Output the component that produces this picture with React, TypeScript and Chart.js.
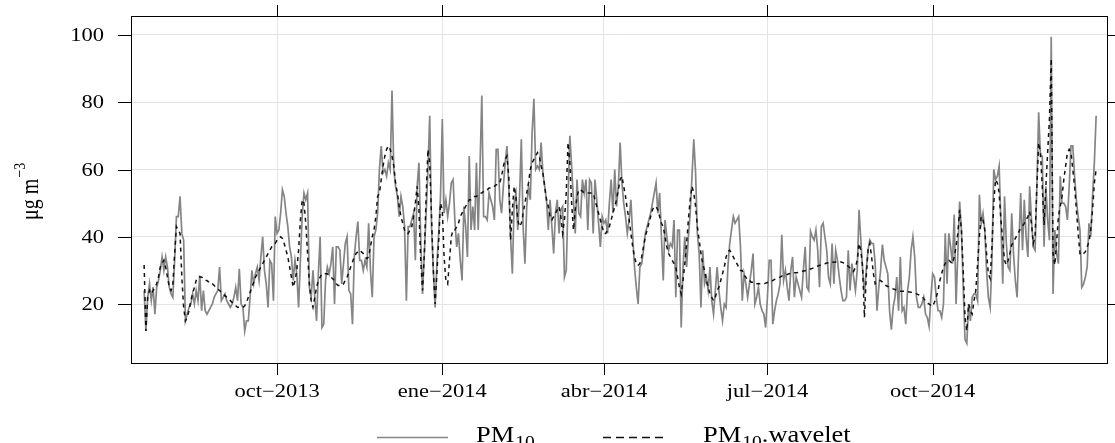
import React, { useEffect, useRef } from "react";
import { Chart, registerables } from "chart.js";

Chart.register(...registerables);

// Daily series; day numbers count from 2013-07-01 (day 0)
const START_DAY = 18;

const pm10: number[] = [
  24, 12, 22, 26, 21, 25, 17, 25, 27, 30,
  34, 30, 34, 31, 25, 23, 22, 33, 46, 46,
  52, 41, 39, 15, 17, 19, 20, 23, 20, 24,
  21, 28.5, 18, 24, 18, 17, 18, 19, 20, 22,
  23, 24, 31, 21, 22, 23, 21, 20, 19, 20,
  22, 25, 21, 30.5, 20, 19, 12, 15, 15, 22,
  30, 26, 29, 31, 27, 34, 40, 30, 26, 19,
  33, 32, 21, 46, 41, 42, 47, 54, 52, 47,
  43, 37, 34, 27, 33, 29, 19, 33, 46, 53,
  51, 53, 25, 22, 30, 22, 15, 29, 40, 13,
  14, 27, 31, 29, 32, 37, 20, 37, 37, 36,
  26, 32, 38, 40, 24, 23, 14, 34, 40, 44.5,
  33, 33, 30, 33, 31, 44, 30, 22, 40, 42,
  47, 60, 67, 59, 60, 58, 62, 60, 83.5, 60,
  55, 52, 46, 52, 49, 43, 21, 43, 43, 45,
  47, 33, 55, 62, 39, 23, 35, 47, 60, 76,
  43, 30, 19, 32, 41, 52, 75, 47, 51, 46,
  50, 56, 57, 45, 37, 41, 33, 27, 49, 43,
  34, 64, 42, 49, 42, 62, 42, 61, 82, 46,
  46, 45, 53, 51, 49, 45, 66, 66, 51, 47,
  55, 62, 67, 55, 40, 29, 50, 53, 42, 52,
  69, 43, 32, 49, 55, 51, 71, 81, 60, 61,
  60, 68, 59, 55, 51, 42, 51, 43, 35, 47,
  51, 41, 48, 49, 28, 30, 51, 70, 61, 51,
  41, 57, 47, 46, 57, 53, 57, 42, 57, 56,
  41, 57, 51, 44, 37, 46, 44, 45, 41, 50,
  57, 47, 60, 49, 55, 68, 56, 50, 46, 41,
  45, 51, 40, 31, 25, 20, 31, 32, 36, 41,
  43, 45, 47, 50, 53, 56, 47, 53, 40, 27,
  45, 40, 36, 38, 37, 45, 22, 42, 42, 13,
  31, 40, 31, 40, 47, 58, 69, 59, 41, 35,
  19, 36, 26, 28, 24, 31, 21, 17, 24, 31,
  24, 19, 15, 20, 19, 31, 38, 42, 46, 44,
  45, 46, 37, 21, 29, 26, 22, 26, 30, 35,
  20, 22, 25, 20, 18, 17, 13, 22, 33, 33,
  14, 18, 21, 23, 26, 40.6, 27, 30, 25, 21,
  30, 34, 22, 28, 26, 24, 22, 30, 37, 25,
  24, 41.6, 40, 39, 42, 36, 25, 43, 44, 40,
  36, 28, 26, 38, 26, 36, 33, 28, 24, 21,
  21, 22, 36, 24, 32, 28, 24, 30, 48, 39,
  30, 23, 30, 36, 39, 38, 38, 32, 18, 25,
  30, 37.7, 33, 31, 29, 18, 12.4, 19, 22, 28,
  18, 34, 18, 19, 14, 24, 28, 36, 40, 34,
  22, 19, 19, 20, 22, 17, 16, 13.4, 22, 29,
  28, 22, 18, 18, 16, 20, 41, 26, 41, 37,
  32, 46.6, 20, 35, 50.5, 42, 25, 9.4, 8.3, 20,
  15, 22, 23, 23, 21, 52.5, 44, 47, 42, 30,
  22, 19, 33, 60, 57, 58, 61, 44, 26, 52,
  38, 31, 30, 47, 35, 27, 22, 38, 53, 36,
  51, 40, 34, 55, 45, 37, 36, 55, 77, 64,
  64, 37, 55, 45, 39, 99.5, 23, 42, 35, 32,
  58, 50, 50, 49, 45, 55, 67, 67, 58, 51,
  46, 42, 25, 26, 28, 31, 44, 40, 52, 62,
  76,
];

const pm10Wavelet: number[] = [
  31.6, 12, 22, 24, 23, 24, 25, 26, 28, 31,
  32, 33, 31, 28, 25, 24, 26, 35, 43, 42,
  41, 28, 19, 15, 16, 18, 21, 23, 25, 27,
  28, 28, 28, 27.5, 27, 27, 26.5, 26, 26, 25.5,
  25, 24.5, 24, 23.5, 23, 22.5, 22, 21.5, 21, 20.5,
  20, 19.5, 19, 19, 19, 19, 19.5, 20.5, 22, 23.5,
  25, 26.5, 28, 29, 30, 31, 32, 33, 34, 35,
  36, 37, 37.5, 38, 39, 39.5, 40, 39.5, 38, 36,
  34, 31, 28, 25, 27, 30, 36, 45, 51, 50,
  44, 35, 26, 21, 19, 22, 25, 27, 28, 29,
  29, 29, 29, 28.5, 28, 27.5, 27, 26, 25.5, 25.5,
  25.5, 26, 27, 28, 29.5, 31, 32.5, 34, 35, 35.5,
  36, 35.5, 35, 34, 33.5, 34, 37, 40, 42, 46,
  52, 53, 57, 61, 64, 66, 67, 66, 64, 61,
  56, 53, 49, 46, 44, 42, 41, 41, 42, 43,
  46, 50, 55, 48, 33, 24, 35, 52, 66, 62,
  46, 30, 20, 29, 39, 50, 48, 34, 27, 26,
  33, 40, 42, 42, 43, 44, 46, 47, 48, 49,
  50, 51, 51, 51.5, 52, 52, 52.5, 53, 53, 53.5,
  54, 54, 54.5, 54.5, 55, 55, 55.5, 55.5, 56, 58,
  61, 63, 64, 58, 39, 48, 55, 52, 45, 43,
  44, 47, 50, 53, 56, 60, 62, 63, 64, 65,
  64, 61, 59, 55, 51, 49, 46, 45, 46, 47,
  48, 49, 46, 41, 45, 53, 68, 62, 50, 42,
  48, 52, 54, 54, 53.5, 53, 53, 53, 53, 53,
  53, 51, 49, 47, 45, 43, 41, 41, 42, 43,
  45, 47, 49, 51, 54, 57, 58, 55, 52, 48,
  45, 41, 37, 34, 32, 31.5, 32, 34, 37, 40,
  42, 44, 46, 48, 49, 49, 48, 46, 44, 43,
  40, 37, 35, 34, 33, 32, 31, 28, 25, 23,
  27, 32, 38, 45, 51, 55, 53, 49, 43, 39,
  35, 32, 30, 27, 25, 23, 22, 21, 22, 24,
  25, 27, 29, 31, 34, 35.5, 36, 35, 34, 33,
  32, 31, 30, 30, 28.5, 28, 27, 27, 26.5, 26.5,
  26, 26, 26, 26, 26, 26, 26.2, 26.4, 26.6, 26.8,
  27, 27.3, 27.6, 27.8, 28, 28.3, 28.6, 28.7, 28.8, 29,
  29.1, 29.2, 29.3, 29.3, 29.4, 29.5, 29.6, 29.8, 29.9, 30,
  30.2, 30.4, 30.6, 30.8, 31, 31.3, 31.5, 31.7, 31.9, 32,
  32.2, 32.3, 32.3, 32.4, 32.4, 32.5, 32.6, 32.7, 32.5, 32.3,
  32, 31.7, 31.2, 30.7, 30.2, 29.7, 31, 33, 38, 36,
  31, 16, 28, 36, 38, 34, 29, 26, 26.5, 27,
  27, 26.5, 26, 25.5, 25.2, 25, 24.8, 24.5, 24.3, 24.1,
  24, 23.8, 23.8, 23.8, 23.8, 23.7, 23.6, 23.5, 23.4, 23.3,
  23, 22.8, 22.5, 22.3, 21.6, 21, 20.3, 20, 19.6, 19.3,
  20.5, 22, 24, 27, 29, 31, 32, 33, 33, 32.5,
  32, 34, 37, 41, 48, 42, 30, 16, 12, 20,
  18, 17, 21, 24, 32, 40, 46, 45, 42, 35,
  29, 27.6, 37, 50, 57, 56, 53, 45, 38.5, 33,
  31.6, 33, 35, 37.6, 38.5, 39.5, 40.5, 41.5, 42.5, 43.2,
  44, 45, 46, 47.5, 44, 38, 40, 55, 68, 65,
  55, 43.5, 55, 65, 75, 93, 35, 31.6, 38.5, 46,
  49, 52, 57, 61, 65, 66, 65, 60, 55, 48,
  41, 35, 34.5, 35, 35.5, 37, 38.5, 42, 48, 56,
  60,
];

const tickDays: number[] = [92, 184, 274, 365, 457];
const tickLabels: string[] = ["oct−2013", "ene−2014", "abr−2014", "jul−2014", "oct−2014"];
const yTicks: number[] = [20, 40, 60, 80, 100];
const seriesLabels: string[] = ["PM10", "PM10.wavelet"];

const SERIF = "'Liberation Serif', 'Times New Roman', serif";
const GREY = "#858585";

function drawScaledText(
  ctx: CanvasRenderingContext2D,
  text: string,
  x: number,
  y: number,
  align: CanvasTextAlign,
  font: string,
  sx: number
): number {
  ctx.save();
  ctx.font = font;
  ctx.textAlign = align;
  ctx.textBaseline = "alphabetic";
  ctx.translate(x, y);
  ctx.scale(sx, 1);
  ctx.fillText(text, 0, 0);
  const w = ctx.measureText(text).width * sx;
  ctx.restore();
  return w;
}

const decorPlugin = {
  id: "latticeDecor",
  afterDraw(chart: any) {
    const { ctx, chartArea, scales } = chart;
    const { left, right, top, bottom } = chartArea;
    const xs = scales.x;
    const ys = scales.y;
    ctx.save();
    ctx.fillStyle = "#000";
    ctx.strokeStyle = "#000";
    ctx.lineWidth = 1;
    ctx.setLineDash([]);
    // frame
    ctx.strokeRect(left + 0.5, top + 0.5, right - left - 1, bottom - top - 1);
    // x ticks (bottom & top)
    ctx.beginPath();
    tickDays.forEach((d) => {
      const px = Math.round(xs.getPixelForValue(d)) + 0.5;
      ctx.moveTo(px, bottom);
      ctx.lineTo(px, bottom + 11);
      ctx.moveTo(px, top);
      ctx.lineTo(px, top - 11);
    });
    // y ticks (left & right)
    yTicks.forEach((v) => {
      const py = Math.round(ys.getPixelForValue(v)) + 0.5;
      ctx.moveTo(left, py);
      ctx.lineTo(left - 13, py);
      ctx.moveTo(right, py);
      ctx.lineTo(right + 7, py);
    });
    ctx.stroke();

    // tick labels
    const tickFont = `18px ${SERIF}`;
    yTicks.forEach((v) => {
      const py = ys.getPixelForValue(v);
      drawScaledText(ctx, String(v), 104, py + 6.2, "right", tickFont, 1.25);
    });
    tickDays.forEach((d, i) => {
      const px = xs.getPixelForValue(d);
      drawScaledText(ctx, tickLabels[i], px, 396.5, "center", tickFont, 1.25);
    });

    // y axis title: μg m^-3 (rotated)
    ctx.save();
    ctx.translate(38, 220);
    ctx.rotate(-Math.PI / 2);
    ctx.scale(1, 1.25);
    ctx.font = `20px ${SERIF}`;
    ctx.textAlign = "left";
    ctx.textBaseline = "alphabetic";
    ctx.fillText("μg m", 0, 0);
    const tw = ctx.measureText("μg m").width;
    ctx.font = `14px ${SERIF}`;
    ctx.fillText("−3", tw + 1, -10.5);
    ctx.restore();

    // legend
    const ly = 437.5;
    ctx.lineWidth = 1.6;
    ctx.strokeStyle = GREY;
    ctx.beginPath();
    ctx.moveTo(377, ly);
    ctx.lineTo(448, ly);
    ctx.stroke();
    ctx.strokeStyle = "#111";
    ctx.lineWidth = 1.4;
    ctx.setLineDash([8, 5]);
    ctx.beginPath();
    ctx.moveTo(603, ly);
    ctx.lineTo(668, ly);
    ctx.stroke();
    ctx.setLineDash([]);

    const mainFont = `23px ${SERIF}`;
    const subFont = `17px ${SERIF}`;
    const drawLabel = (x0: number, label: string) => {
      const base = label.slice(0, 2);
      const sub = label.slice(2, 4);
      const rest = label.slice(4);
      let x = x0;
      x += drawScaledText(ctx, base, x, 442, "left", mainFont, 1.15);
      x += 1;
      x += drawScaledText(ctx, sub, x, 447, "left", subFont, 1.15);
      if (rest) drawScaledText(ctx, rest, x, 442, "left", mainFont, 1.15);
    };
    drawLabel(476, seriesLabels[0]);
    drawLabel(703, seriesLabels[1]);
    ctx.restore();
  },
};

export default function App() {
  const canvasRef = useRef<HTMLCanvasElement | null>(null);

  useEffect(() => {
    const canvas = canvasRef.current;
    if (!canvas) return;
    const chart = new Chart(canvas, {
      type: "line",
      data: {
        datasets: [
          {
            label: seriesLabels[1],
            data: pm10Wavelet.map((v, i) => ({ x: START_DAY + i, y: v })),
            borderColor: "#111",
            borderWidth: 1.5,
            borderDash: [4, 4],
            pointRadius: 0,
            tension: 0,
            fill: false,
            order: 0,
          },
          {
            label: seriesLabels[0],
            data: pm10.map((v, i) => ({ x: START_DAY + i, y: v })),
            borderColor: GREY,
            borderWidth: 1.7,
            pointRadius: 0,
            tension: 0,
            fill: false,
            order: 1,
          },
        ],
      },
      options: {
        responsive: false,
        animation: false,
        devicePixelRatio: 1,
        layout: { autoPadding: false, padding: { left: 131, right: 7, top: 16, bottom: 79 } },
        plugins: { legend: { display: false }, tooltip: { enabled: false } },
        scales: {
          x: {
            type: "linear",
            min: 10.7,
            max: 554.6,
            afterBuildTicks: (scale: any) => {
              scale.ticks = tickDays.map((v) => ({ value: v }));
            },
            ticks: { display: false },
            grid: { color: "#e4e4e4", lineWidth: 1, drawTicks: false },
            border: { display: false },
          },
          y: {
            type: "linear",
            min: 2.16,
            max: 105.65,
            afterBuildTicks: (scale: any) => {
              scale.ticks = yTicks.map((v) => ({ value: v }));
            },
            ticks: { display: false },
            grid: { color: "#e4e4e4", lineWidth: 1, drawTicks: false },
            border: { display: false },
          },
        },
      },
      plugins: [decorPlugin],
    } as any);
    return () => chart.destroy();
  }, []);

  return (
    <div style={{ position: "absolute", left: 0, top: 0, width: 1115, height: 443, background: "#fff" }}>
      <canvas ref={canvasRef} width={1115} height={443} style={{ width: 1115, height: 443, display: "block" }} />
    </div>
  );
}
